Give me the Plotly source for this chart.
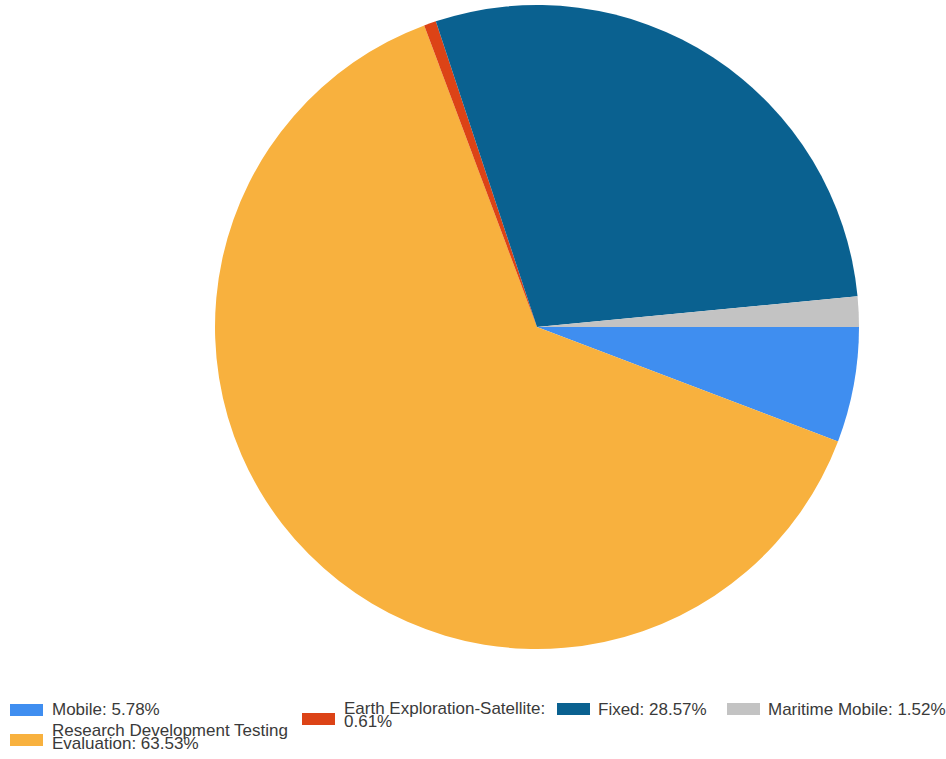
import plotly.graph_objects as go

labels = ["Mobile", "Research Development Testing Evaluation", "Earth Exploration-Satellite", "Fixed", "Maritime Mobile"]
values = [5.78, 63.53, 0.61, 28.57, 1.52]
colors = ["#3f8ef0", "#f8b13e", "#dc4316", "#0a6190", "#c3c3c3"]
legend_lines = [["Mobile: 5.78%"],
                ["Research Development Testing", "Evaluation: 63.53%"],
                ["Earth Exploration-Satellite:", "0.61%"],
                ["Fixed: 28.57%"],
                ["Maritime Mobile: 1.52%"]]

W, H = 946, 759
cx, cy, r = 537, 327, 322

fig = go.Figure(go.Pie(
    labels=labels, values=values, sort=False, direction="clockwise", rotation=90,
    marker=dict(colors=colors, line=dict(width=0)),
    textinfo="none", hoverinfo="label+percent", showlegend=False,
    domain=dict(x=[(cx - r) / W, (cx + r) / W], y=[(H - cy - r) / H, (H - cy + r) / H]),
))

# manual legend layout: swatch x0, swatch y center, text x, first text line y center (pixels)
legend_pos = [(10, 710, 50, 709), (10, 740, 50, 730.5), (302, 719, 342, 708.5),
              (557, 709, 596, 709), (727, 709, 766, 709)]
line_gap = 13
shapes, annotations = [], []
for (sx, sy, tx, ty), col, lines in zip(legend_pos, colors, legend_lines):
    shapes.append(dict(type="rect", xref="paper", yref="paper",
                       x0=sx / W, x1=(sx + 33) / W, y0=(H - sy - 6) / H, y1=(H - sy + 6) / H,
                       fillcolor=col, line=dict(width=0)))
    for i, txt in enumerate(lines):
        annotations.append(dict(xref="paper", yref="paper", x=tx / W, y=(H - ty - i * line_gap) / H,
                                xanchor="left", yanchor="middle", align="left", showarrow=False,
                                text=txt, font=dict(family="Liberation Sans, Arial", size=17, color="#3a3a3a")))

fig.update_layout(width=W, height=H, margin=dict(l=0, r=0, t=0, b=0),
                  paper_bgcolor="white", plot_bgcolor="white",
                  shapes=shapes, annotations=annotations)
fig.write_html("out.html")
